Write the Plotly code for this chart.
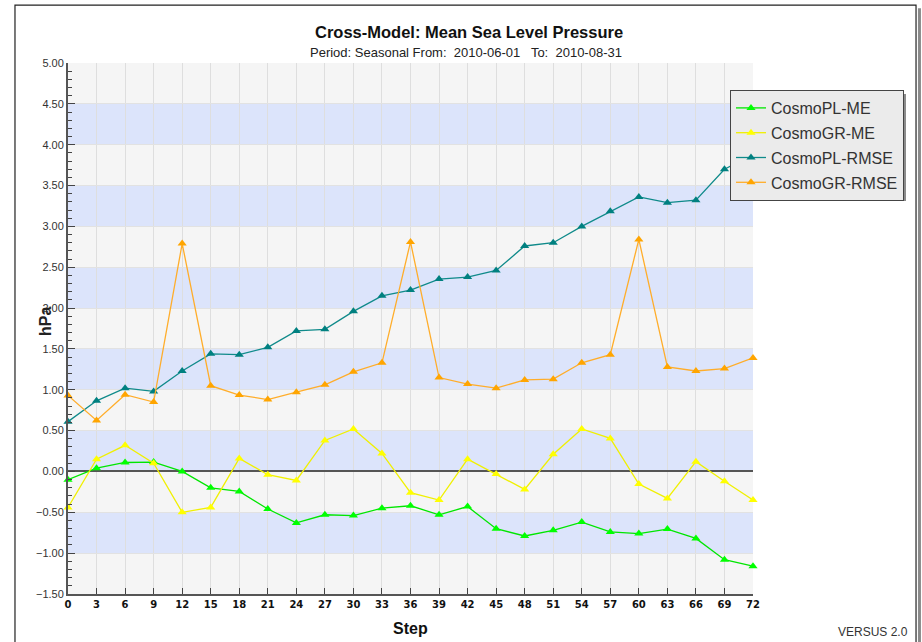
import plotly.graph_objects as go

steps = list(range(0, 73, 3))
tick_labels = [str(s) for s in steps]

cosmopl_me = [-0.10, 0.04, 0.11, 0.115, 0.0, -0.20, -0.245, -0.46, -0.63, -0.53, -0.54, -0.45, -0.42,
              -0.53, -0.43, -0.70, -0.79, -0.72, -0.62, -0.74, -0.76, -0.705, -0.82, -1.08, -1.16]
cosmogr_me = [-0.44, 0.15, 0.32, 0.10, -0.50, -0.44, 0.16, -0.04, -0.11, 0.38, 0.52, 0.22, -0.26,
              -0.35, 0.15, -0.03, -0.22, 0.21, 0.52, 0.405, -0.155, -0.33, 0.12, -0.12, -0.35]
cosmopl_rmse = [0.61, 0.865, 1.02, 0.98, 1.23, 1.44, 1.43, 1.52, 1.72, 1.74, 1.96, 2.15, 2.22,
                2.355, 2.38, 2.46, 2.76, 2.80, 3.00, 3.185, 3.36, 3.29, 3.32, 3.70, 3.88]
cosmogr_rmse = [0.93, 0.625, 0.94, 0.85, 2.79, 1.05, 0.935, 0.88, 0.97, 1.06, 1.22, 1.33, 2.81,
                1.15, 1.07, 1.02, 1.12, 1.13, 1.33, 1.43, 2.84, 1.28, 1.23, 1.26, 1.39]

series = [
    ("CosmoPL-ME", cosmopl_me, "#00e600", "#00ff00"),
    ("CosmoGR-ME", cosmogr_me, "#f0f000", "#ffff00"),
    ("CosmoPL-RMSE", cosmopl_rmse, "#0f8a8a", "#008080"),
    ("CosmoGR-RMSE", cosmogr_rmse, "#ffad2a", "#ffa500"),
]

band_edges = [-1.0, 0.0, 1.0, 2.0, 3.0, 4.0]

fig = go.Figure()
for i, (name, vals, lc, mc) in enumerate(series):
    fig.add_trace(go.Scatter(
        x=steps, y=vals, name=name, mode="lines+markers",
        line=dict(color=lc, width=1.3),
        marker=dict(symbol="triangle-up", size=8, color=mc),
        cliponaxis=False, legendgroup="g%d" % i,
    ))

shapes = []
for b in band_edges:
    shapes.append(dict(type="rect", xref="x", yref="y", x0=0, x1=72, y0=b, y1=b + 0.5,
                       fillcolor="#dce4fb", line=dict(width=0), layer="below"))
# outer frame
shapes.append(dict(type="line", xref="paper", yref="paper", x0=1.243, x1=1.243, y0=1.103, y1=-0.12,
                   line=dict(color="#8a8a8a", width=3), layer="below"))
shapes.append(dict(type="rect", xref="paper", yref="paper", x0=-0.0774, x1=1.238, y0=1.109, y1=-0.12,
                   line=dict(color="#222222", width=1.2), fillcolor="rgba(0,0,0,0)", layer="below"))
# legend shadow
shapes.append(dict(type="rect", xref="paper", yref="paper",
                   x0=(733 - 68) / 685, x1=(906 - 68) / 685, y0=(594 - 94) / 531, y1=(594 - 201) / 531,
                   fillcolor="#8c8c8c", line=dict(width=0), layer="above"))

annotations = [
    dict(text="<b>Cross-Model: Mean Sea Level Pressure</b>", xref="paper", yref="paper",
         x=(469 - 68) / 685, y=(594 - 32) / 531, showarrow=False, xanchor="center", yanchor="middle",
         font=dict(family="Liberation Sans, Arial", size=16.5, color="#111111")),
    dict(text="Period: Seasonal From:  2010-06-01   To:  2010-08-31", xref="paper", yref="paper",
         x=(466 - 68) / 685, y=(594 - 52) / 531, showarrow=False, xanchor="center", yanchor="middle",
         font=dict(family="Liberation Sans, Arial", size=13, color="#222222")),
    dict(text="<b>hPa</b>", xref="paper", yref="paper", x=(45 - 68) / 685, y=(594 - 322) / 531,
         showarrow=False, textangle=-90, xanchor="center", yanchor="middle",
         font=dict(family="Liberation Sans, Arial", size=16, color="#222222")),
    dict(text="<b>Step</b>", xref="paper", yref="paper", x=0.5, y=(594 - 628) / 531,
         showarrow=False, xanchor="center", yanchor="middle",
         font=dict(family="Liberation Sans, Arial", size=16, color="#111111")),
    dict(text="VERSUS 2.0", xref="paper", yref="paper", x=(873 - 68) / 685, y=(594 - 632) / 531,
         showarrow=False, xanchor="center", yanchor="middle",
         font=dict(family="Liberation Sans, Arial", size=12, color="#333333")),
]

fig.update_layout(
    width=922, height=642,
    margin=dict(l=68, r=169, t=63, b=48, autoexpand=False),
    paper_bgcolor="white", plot_bgcolor="#f5f5f5",
    shapes=shapes, annotations=annotations,
    showlegend=True,
    legend=dict(x=(730 - 68) / 685, y=(594 - 90) / 531, xanchor="left", yanchor="top",
                bgcolor="#ebebeb", bordercolor="#444444", borderwidth=1,
                font=dict(family="Liberation Sans, Arial", size=16, color="#333333"),
                tracegroupgap=1, itemwidth=30),
    xaxis=dict(range=[0, 72], tickvals=steps, ticktext=tick_labels, automargin=False,
               showgrid=True, gridcolor="#dedede", gridwidth=1,
               showline=True, linecolor="#555555", linewidth=2,
               ticks="inside", ticklen=6, tickcolor="#444444",
               tickfont=dict(family="DejaVu Sans, Liberation Sans", size=10, color="#111111", weight="bold"),
               zeroline=False, fixedrange=True),
    yaxis=dict(range=[-1.5, 5.0], dtick=0.5, tick0=0, tickformat=".2f", automargin=False,
               showgrid=True, gridcolor="#e2e2e2", gridwidth=1,
               showline=True, linecolor="#555555", linewidth=2,
               ticks="inside", ticklen=7, tickcolor="#444444",
               minor=dict(dtick=0.1, ticks="inside", ticklen=4, tickcolor="#444444", showgrid=False),
               tickfont=dict(family="Liberation Sans, Arial", size=11, color="#333333"),
               zeroline=True, zerolinecolor="#555555", zerolinewidth=2, fixedrange=True),
)

fig.write_html("out.html", config={"displayModeBar": False},
               post_script="document.body.style.margin='0';document.body.style.overflow='hidden';")
